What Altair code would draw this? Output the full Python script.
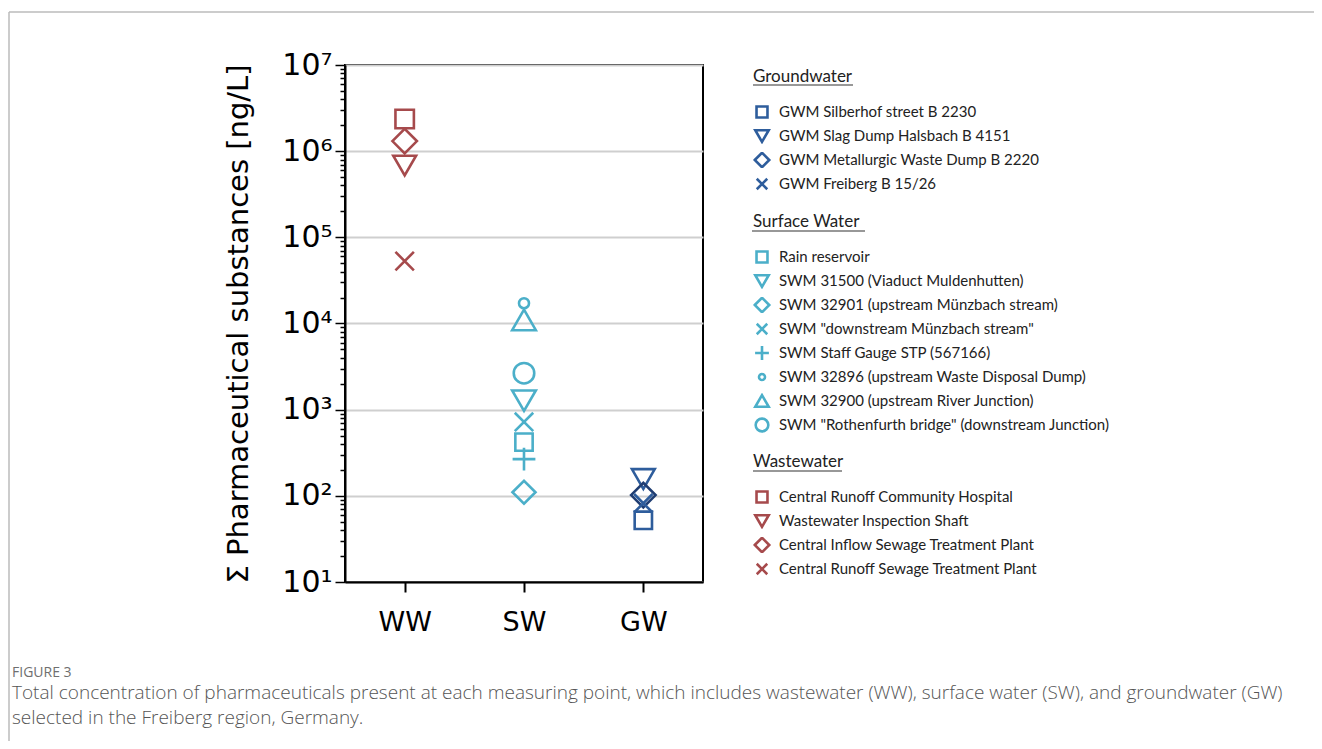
import altair as alt
import pandas as pd

# ---------------- data ----------------
categories = ["WW", "SW", "GW"]

ww_stations = [
    "Central Runoff Community Hospital",
    "Wastewater Inspection Shaft",
    "Central Inflow Sewage Treatment Plant",
    "Central Runoff Sewage Treatment Plant",
]
ww_values = [2.36e6, 6.8e5, 1.31e6, 5.3e4]

sw_stations = [
    "Rain reservoir",
    "SWM 31500 (Viaduct Muldenhutten)",
    "SWM 32901 (upstream Münzbach stream)",
    'SWM "downstream Münzbach stream"',
    "SWM Staff Gauge STP (567166)",
    "SWM 32896 (upstream Waste Disposal Dump)",
    "SWM 32900 (upstream River Junction)",
    'SWM "Rothenfurth bridge" (downstream Junction)',
]
sw_values = [420, 1270, 110, 720, 267, 17200, 11000, 2650]

gw_stations = [
    "GWM Silberhof street B 2230",
    "GWM Slag Dump Halsbach B 4151",
    "GWM Metallurgic Waste Dump B 2220",
    "GWM Freiberg B 15/26",
]
gw_values = [52, 157, 102, 82]

y_title = "Σ Pharmaceutical substances [ng/L]"
caption_label = "FIGURE 3"
caption_lines = [
    "Total concentration of pharmaceuticals present at each measuring point, which includes wastewater (WW), surface water (SW), and groundwater (GW)",
    "selected in the Freiberg region, Germany.",
]
legend_titles = {"GW": "Groundwater", "SW": "Surface Water", "WW": "Wastewater"}

# ---------------- styles ----------------
X_PATH = "M-1,-1L1,1M-1,1L1,-1"
PLUS_PATH = "M-1,0L1,0M0,-1L0,1"
RED = "#A64A4C"
CYAN = "#4BAFC9"
BLUE = "#2E5D9C"
NAVY = "#1F3D72"

STYLE = {
    "WW": dict(
        shapes=["square", "triangle-down", "diamond", X_PATH],
        colors=[RED] * 4,
        legend_colors=[RED] * 4,
        sizes=[340, 520, 600, 340],
        legend_sizes=[120, 180, 210, 110],
        legend_y=389,
    ),
    "SW": dict(
        shapes=["square", "triangle-down", "diamond", X_PATH, PLUS_PATH,
                "circle", "triangle-up", "circle"],
        colors=[CYAN] * 8,
        legend_colors=[CYAN] * 8,
        sizes=[300, 560, 530, 340, 520, 100, 560, 420],
        legend_sizes=[120, 180, 210, 110, 190, 36, 180, 160],
        legend_y=149,
    ),
    "GW": dict(
        shapes=["square", "triangle-down", "diamond", X_PATH],
        colors=[BLUE, BLUE, NAVY, BLUE],
        legend_colors=[BLUE, BLUE, BLUE, BLUE],
        sizes=[300, 520, 600, 340],
        legend_sizes=[120, 180, 210, 110],
        legend_y=4,
    ),
}

LEGEND_FONT = "Lato"
AXIS_FONT = "DejaVu Sans"

IS_MAJOR = "abs(log(datum.value)/LN10 - round(log(datum.value)/LN10)) < 0.001"
SUP = "['⁰','¹','²','³','⁴','⁵','⁶','⁷','⁸','⁹']"
tick_values = [m * 10 ** k for k in range(1, 7) for m in range(1, 10)] + [10 ** 7]

x_enc = alt.X(
    "cat:N",
    scale=alt.Scale(domain=categories, type="point", padding=0.5),
    axis=alt.Axis(
        title=None, labelAngle=0, labelFont=AXIS_FONT, labelFontSize=27,
        labelColor="black", tickSize=10, tickColor="black", tickWidth=2,
        domainColor="black", domainWidth=2, labelPadding=17, grid=False,
    ),
)
y_enc = alt.Y(
    "value:Q",
    scale=alt.Scale(type="log", domain=[10, 10 ** 7]),
    axis=alt.Axis(
        title=y_title, titleFont=AXIS_FONT, titleFontSize=29,
        titleFontWeight="normal", titleColor="black", titlePadding=28,
        values=tick_values, labelOverlap=False,
        labelExpr=f"({IS_MAJOR}) ? '10' + {SUP}[round(log(datum.value)/LN10)] : ''",
        labelFont=AXIS_FONT, labelFontSize=30, labelColor="black", labelPadding=3,
        tickSize={"condition": {"test": IS_MAJOR, "value": 10}, "value": 5},
        tickColor="black", tickWidth=1.5, domainColor="black", domainWidth=2,
        grid=True, gridColor="#cfcfcf", gridWidth=2,
        gridOpacity={"condition": {"test": IS_MAJOR, "value": 1}, "value": 0},
    ),
)


def group_layers(cat, stations, values):
    st = STYLE[cat]
    df = pd.DataFrame({"cat": [cat] * len(stations), "station": stations, "value": values})
    base = alt.Chart(df)
    marks = base.mark_point(filled=False, strokeWidth=2.6, opacity=1).encode(
        x=x_enc,
        y=y_enc,
        color=alt.Color("station:N", scale=alt.Scale(domain=stations, range=st["colors"]), legend=None),
        shape=alt.Shape("station:N", scale=alt.Scale(domain=stations, range=st["shapes"]), legend=None),
        size=alt.Size("station:N", scale=alt.Scale(type="ordinal", domain=stations, range=st["sizes"]), legend=None),
    )
    leg = base.transform_filter("false").mark_point(filled=False, strokeWidth=2.4).encode(
        x=x_enc,
        y=y_enc,
        color=alt.Color(
            "station:N",
            scale=alt.Scale(domain=stations, range=st["legend_colors"]),
            legend=alt.Legend(
                title=legend_titles[cat], orient="none", legendX=408, legendY=st["legend_y"],
                titleFont=LEGEND_FONT, titleFontSize=17, titleFontWeight="normal",
                titleColor="#222222", titlePadding=18,
                labelFont=LEGEND_FONT, labelFontSize=15, labelColor="#222222",
                labelOffset=8, labelLimit=500, symbolStrokeWidth=2.6, symbolOpacity=1,
                rowPadding=8, clipHeight=16, padding=0,
            ),
        ),
        shape=alt.Shape("station:N", scale=alt.Scale(domain=stations, range=st["shapes"])),
        size=alt.Size("station:N", scale=alt.Scale(type="ordinal", domain=stations, range=st["legend_sizes"])),
    )
    return [marks, leg]


one = alt.Data(values=[{}])


def hrule(x1, x2, y, color, width):
    return alt.Chart(one).mark_rule(color=color, strokeWidth=width).encode(
        x=alt.value(x1), x2=alt.value(x2), y=alt.value(y)
    )


def vrule(x, y1, y2, color, width):
    return alt.Chart(one).mark_rule(color=color, strokeWidth=width).encode(
        x=alt.value(x), y=alt.value(y1), y2=alt.value(y2)
    )


layers = []
layers += group_layers("WW", ww_stations, ww_values)
layers += group_layers("SW", sw_stations, sw_values)
layers += group_layers("GW", gw_stations, gw_values)

# legend-title underlines and the figure frame (decoration)
layers += [
    hrule(408, 508, 20, "#333333", 1.2),
    hrule(407, 520, 166, "#333333", 1.2),
    hrule(408, 497, 406, "#333333", 1.2),
    hrule(-336, 980, -53, "#bbbbbb", 1.5),
    vrule(-336, -53, 676, "#bbbbbb", 1.5),
]

chart = (
    alt.layer(*layers)
    .resolve_scale(color="independent", shape="independent", size="independent")
    .properties(
        width=358,
        height=517,
        autosize=alt.AutoSizeParams(type="none"),
        padding={"left": 337, "top": 57, "right": 611, "bottom": 159},
        title=alt.TitleParams(
            text=caption_label,
            subtitle=caption_lines,
            orient="bottom",
            anchor="start",
            frame="group",
            dx=-333,
            offset=0,
            dy=-76,
            font="Open Sans",
            fontSize=14,
            fontWeight="normal",
            color="#6f6f6f",
            subtitleFont="Open Sans",
            subtitleFontSize=19,
            subtitleFontWeight=300,
            subtitleColor="#555555",
            subtitleLineHeight=25,
            subtitlePadding=4,
        ),
    )
    .configure_view(stroke="black", strokeWidth=2)
)

chart.save("out.html", embed_options={"renderer": "svg", "actions": False})
